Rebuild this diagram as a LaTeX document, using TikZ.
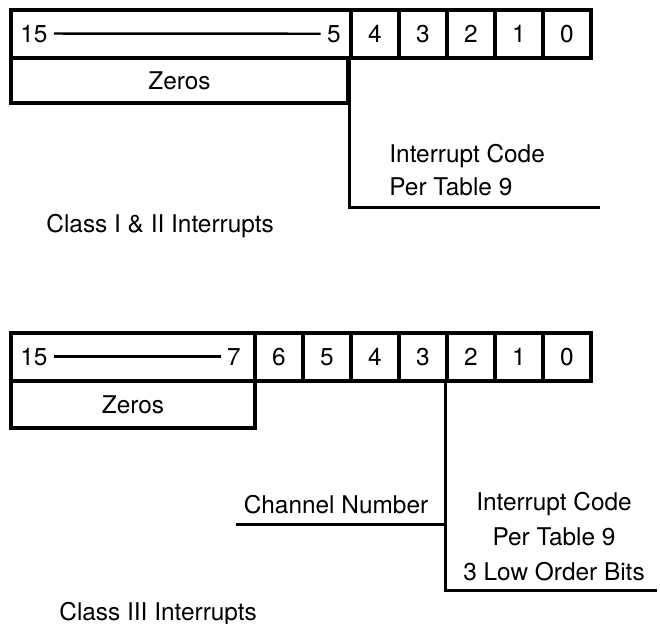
\documentclass[tikz,border=0pt]{standalone}
\usepackage{fontspec}
\setmainfont{TeX Gyre Heros}
\begin{document}
\begin{tikzpicture}[x=0.5pt,y=-0.5pt,
  txt/.style={font=\fontsize{12.2}{14}\selectfont},
  reg/.style={draw, line width=1.7pt, inner sep=0pt, minimum height=24pt, txt},
  bitcell/.style={reg, minimum width=24pt},
  lbl/.style={inner sep=1pt, txt},
  rule/.style={line width=1.2pt, shorten <=2pt, shorten >=2pt},
  lead/.style={line width=1.5pt},
]
\useasboundingbox (0,0) rectangle (660,623);

% ---- Class I & II status word ----
\node[reg, minimum width=170pt] (hiA) at (181,34) {};
\foreach \b [count=\i from 0] in {4,3,2,1,0}
  \node[bitcell] (a\b) at (375+48*\i,34) {\b};
\node[reg, minimum width=168.5pt, minimum height=22.5pt] (zA) at (179.5,80.5) {Zeros};
\node[lbl, anchor=base west] (n15A) at (18,42) {15};
\node[lbl, anchor=base east] (n5A) at (343,42) {5};
\draw[rule] (n15A.east) -- (n5A.west);

\coordinate (endA) at (600,207);
\draw[lead] (a4.south west) |- (endA);
\node[lbl, anchor=base west] (icA) at (387,162) {Interrupt Code};
\node[lbl, anchor=base west] (ptA) at (387,195) {Per Table 9};
\node[lbl, anchor=base west] (clsA) at (44,232) {Class I \& II Interrupts};

% ---- Class III status word ----
\node[reg, minimum width=122pt] (hiB) at (133,357) {};
\foreach \b [count=\i from 0] in {6,5,4,3,2,1,0}
  \node[bitcell] (b\b) at (279+48*\i,357) {\b};
\node[reg, minimum width=122pt, minimum height=23.5pt] (zB) at (133,404.5) {Zeros};
\node[lbl, anchor=base west] (n15B) at (18,365) {15};
\node[lbl, anchor=base east] (n7B) at (243,365) {7};
\draw[rule] (n15B.east) -- (n7B.west);

\coordinate (endB) at (657,590);
\draw[lead] (b2.south west) |- (endB);
\coordinate (chB) at (236,524);
\draw[lead] (chB) -- (chB -| b2.west);
\node[lbl, anchor=base] (cnB) at (336,513) {Channel Number};
\node[lbl, anchor=base] (icB) at (554,510) {Interrupt Code};
\node[lbl, anchor=base] (ptB) at (554,545) {Per Table 9};
\node[lbl, anchor=base] (lbB) at (554,580) {3 Low Order Bits};
\node[lbl, anchor=base west] (clsB) at (57,620) {Class III Interrupts};
\end{tikzpicture}
\end{document}
